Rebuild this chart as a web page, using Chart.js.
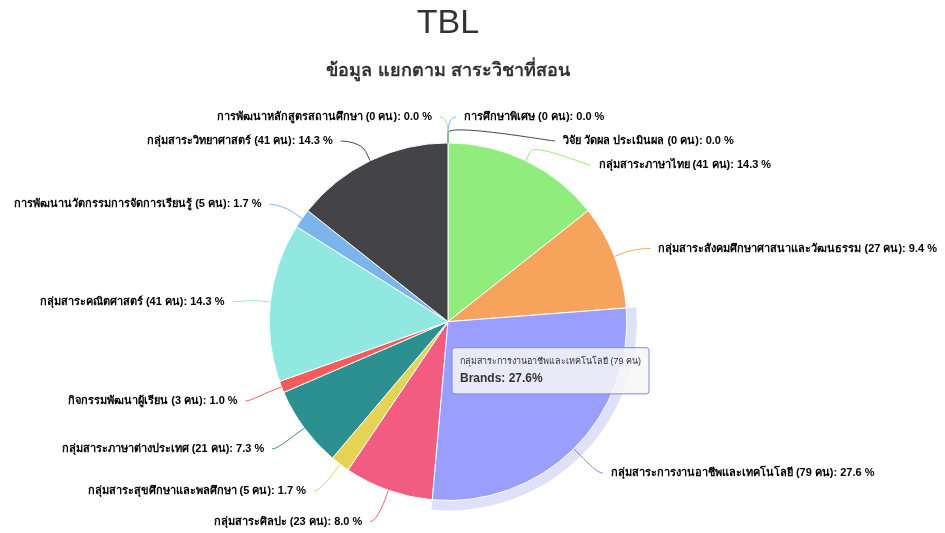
<!DOCTYPE html>
<html>
<head>
<meta charset="utf-8">
<script src="https://cdn.jsdelivr.net/npm/chart.js@4.4.0/dist/chart.umd.min.js"></script>
<style>
  html, body { margin: 0; padding: 0; background: #fff; }
  #wrap { width: 945px; height: 533px; }
</style>
</head>
<body>
<div id="wrap"><canvas id="pie" width="945" height="533"></canvas></div>
<script>
// ---------------- data ----------------
const subjects = [
  "การศึกษาพิเศษ",
  "วิจัย วัดผล ประเมินผล",
  "กลุ่มสาระภาษาไทย",
  "กลุ่มสาระสังคมศึกษาศาสนาและวัฒนธรรม",
  "กลุ่มสาระการงานอาชีพและเทคโนโลยี",
  "กลุ่มสาระศิลปะ",
  "กลุ่มสาระสุขศึกษาและพลศึกษา",
  "กลุ่มสาระภาษาต่างประเทศ",
  "กิจกรรมพัฒนาผู้เรียน",
  "กลุ่มสาระคณิตศาสตร์",
  "การพัฒนานวัตกรรมการจัดการเรียนรู้",
  "กลุ่มสาระวิทยาศาสตร์",
  "การพัฒนาหลักสูตรสถานศึกษา"
];
const teachers = [0, 0, 41, 27, 79, 23, 5, 21, 3, 41, 5, 41, 0];
const sliceColors = [
  "#7cb5ec", "#434348", "#90ed7d", "#f7a35c", "#8085e9", "#f15c80", "#e4d354",
  "#2b908f", "#f45b5b", "#91e8e1", "#7cb5ec", "#434348", "#90ed7d"
];
const hoverIndex = 4;           // slice shown with tooltip
const hoverColor = "#999eff";
const seriesName = "Brands";

const total = teachers.reduce((a, b) => a + b, 0);
const pct = v => (v / total * 100).toFixed(1);

// ---------------- label plugin ----------------
const LABEL_DIST = 30;
const LABEL_GAP = 24;

const outsideLabels = {
  id: "outsideLabels",
  afterDatasetsDraw(chart) {
    const meta = chart.getDatasetMeta(0);
    const ctx = chart.ctx;
    const items = meta.data.map((arc, i) => {
      const p = arc.getProps(["x", "y", "startAngle", "endAngle", "outerRadius"], true);
      const mid = (p.startAngle + p.endAngle) / 2;
      const theta = mid + Math.PI / 2;       // clockwise from top
      const R = p.outerRadius + LABEL_DIST;
      const y = p.y + Math.sin(mid) * R;
      return { i, p, mid, R, left: theta >= Math.PI, natural: y, y };
    });

    const top = 114, bottom = 522;
    [true, false].forEach(side => {
      const list = items.filter(it => it.left === side).sort((a, b) => a.y - b.y || a.i - b.i);
      let last = -Infinity;
      list.forEach(it => {
        it.y = Math.max(it.y, last + LABEL_GAP, top);
        last = it.y;
      });
      let next = Infinity;
      for (let k = list.length - 1; k >= 0; k--) {
        list[k].y = Math.min(list[k].y, next - LABEL_GAP, bottom);
        next = list[k].y;
      }
    });

    ctx.save();
    ctx.font = "bold 11px 'Liberation Sans', Arial, sans-serif";
    ctx.textBaseline = "middle";
    items.forEach(it => {
      const { p, mid, R } = it;
      const dir = it.left ? -1 : 1;
      const yx = Math.abs(it.y - it.natural) < 4 ? it.natural : it.y;
      const dy = Math.max(-R, Math.min(R, yx - p.y));
      const dx = Math.sqrt(R * R - dy * dy);
      const lx = p.x + dir * (dx + 8);
      const ly = it.y + 3;
      const touch = { x: p.x + Math.cos(mid) * p.outerRadius, y: p.y + Math.sin(mid) * p.outerRadius };
      const brk = { x: p.x + Math.cos(mid) * (p.outerRadius + 10), y: p.y + Math.sin(mid) * (p.outerRadius + 10) };

      ctx.strokeStyle = sliceColors[it.i];
      ctx.lineWidth = 1;
      ctx.beginPath();
      ctx.moveTo(lx, ly);
      ctx.bezierCurveTo(lx - dir * 5, ly, 2 * brk.x - touch.x, 2 * brk.y - touch.y, brk.x, brk.y);
      ctx.lineTo(touch.x, touch.y);
      ctx.stroke();

      const text = `${subjects[it.i]} (${teachers[it.i]} คน): ${pct(teachers[it.i])} %`;
      ctx.textAlign = it.left ? "right" : "left";
      ctx.lineWidth = 2;
      ctx.strokeStyle = "#fff";
      ctx.lineJoin = "round";
      ctx.strokeText(text, lx + dir * 8, ly);
      ctx.fillStyle = "#000";
      ctx.fillText(text, lx + dir * 8, ly);
    });
    ctx.restore();
  }
};

// halo around the hovered slice
const halo = {
  id: "halo",
  beforeDatasetsDraw(chart) {
    const arc = chart.getDatasetMeta(0).data[hoverIndex];
    const p = arc.getProps(["x", "y", "startAngle", "endAngle", "outerRadius"], true);
    const ctx = chart.ctx;
    ctx.save();
    ctx.fillStyle = "rgba(128,133,233,0.25)";
    ctx.beginPath();
    ctx.arc(p.x, p.y, p.outerRadius + 10, p.startAngle, p.endAngle);
    ctx.arc(p.x, p.y, p.outerRadius, p.endAngle, p.startAngle, true);
    ctx.closePath();
    ctx.fill();
    ctx.restore();
  }
};

Chart.Tooltip.positioners.nearCenter = function (elements) {
  if (!elements.length) return false;
  const el = elements[0].element;
  return { x: el.x + 7, y: el.y + 24 };
};

const chart = new Chart(document.getElementById("pie"), {
  type: "pie",
  data: {
    labels: subjects,
    datasets: [{
      label: seriesName,
      data: teachers,
      backgroundColor: sliceColors,
      hoverBackgroundColor: sliceColors.map((c, i) => i === hoverIndex ? hoverColor : c),
      borderColor: "#fff",
      hoverBorderColor: "#fff",
      borderWidth: 1,
      hoverOffset: 0
    }]
  },
  options: {
    responsive: false,
    animation: false,
    events: [],
    layout: { padding: { top: 0, bottom: 32, left: 0, right: 49 } },
    plugins: {
      legend: { display: false },
      title: {
        display: true,
        text: "TBL",
        color: "#333",
        font: { size: 34, weight: "normal", family: "'Lucida Grande', 'Liberation Sans', Arial, sans-serif" },
        padding: { top: 3, bottom: 12 }
      },
      subtitle: {
        display: true,
        text: "ข้อมูล แยกตาม สาระวิชาที่สอน",
        color: "#333",
        font: { size: 18, weight: "bold", family: "'Liberation Sans', Arial, sans-serif" },
        padding: { top: 4, bottom: 61 }
      },
      tooltip: {
        enabled: true,
        position: "nearCenter",
        xAlign: "left",
        yAlign: "top",
        caretSize: 0,
        backgroundColor: "rgba(247,247,247,0.85)",
        borderColor: "#8085e9",
        borderWidth: 1,
        cornerRadius: 3,
        padding: 8,
        displayColors: false,
        titleColor: "#333",
        bodyColor: "#333",
        titleFont: { size: 9, weight: "normal", family: "'Liberation Sans', Arial, sans-serif" },
        bodyFont: { size: 12, weight: "bold", family: "'Liberation Sans', Arial, sans-serif" },
        titleMarginBottom: 5,
        callbacks: {
          title: items => `${subjects[items[0].dataIndex]} (${teachers[items[0].dataIndex]} คน)`,
          label: item => `${seriesName}: ${pct(teachers[item.dataIndex])}%`
        }
      }
    }
  },
  plugins: [halo, outsideLabels]
});

chart.setActiveElements([{ datasetIndex: 0, index: hoverIndex }]);
chart.tooltip.setActiveElements([{ datasetIndex: 0, index: hoverIndex }], { x: 0, y: 0 });
chart.update();
</script>
</body>
</html>
